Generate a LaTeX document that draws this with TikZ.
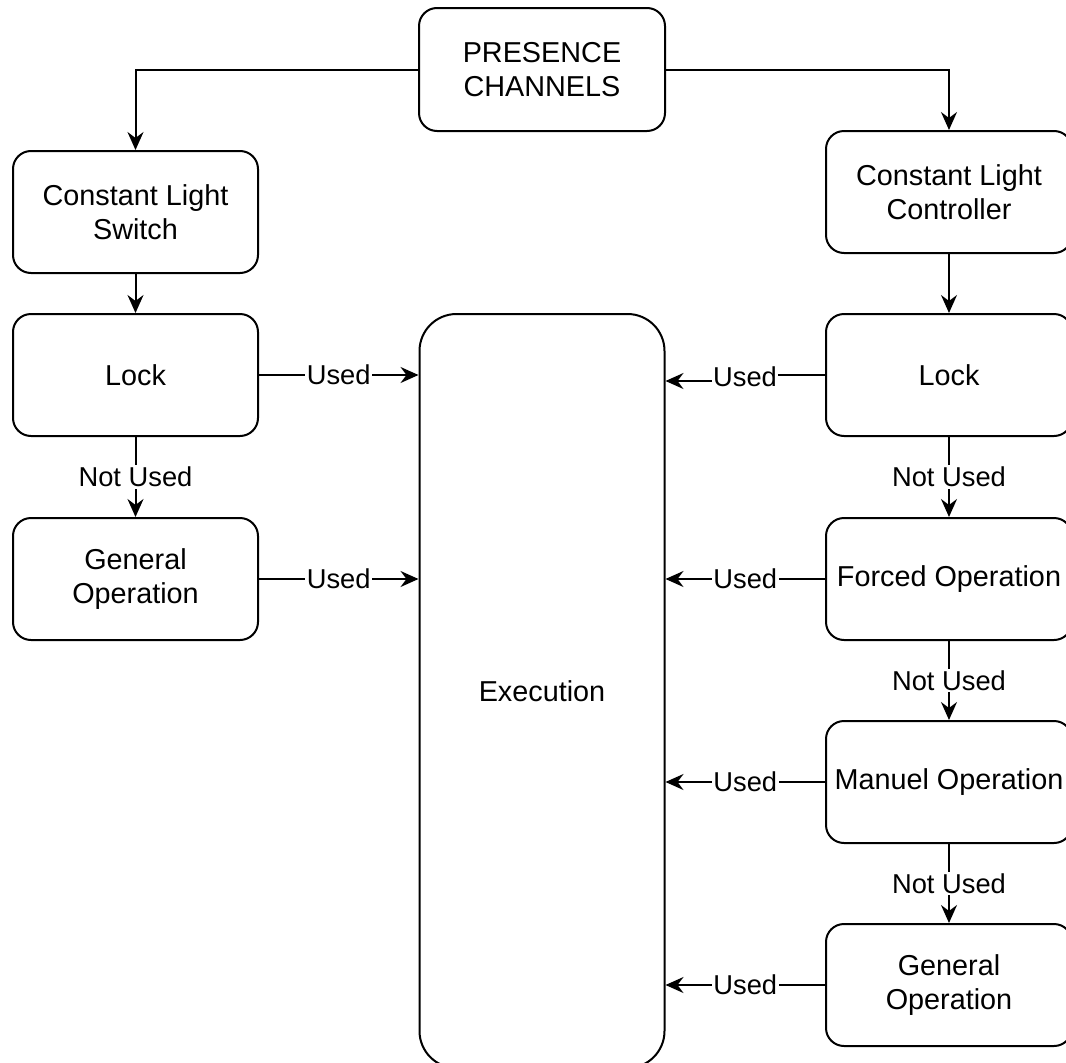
\documentclass[tikz,border=0pt]{standalone}
\usepackage{fontspec}
\setmainfont{Liberation Sans}
\usetikzlibrary{arrows.meta,calc}
\tikzset{
  box/.style={draw, line width=2pt, rounded corners=18pt, minimum width=245pt, minimum height=122pt, align=center, inner sep=0pt,
    font=\fontsize{28.8}{34.5}\selectfont},
  arr/.style={line width=2pt, -{Stealth[length=18pt,width=16pt,inset=6pt]}},
  lbl/.style={fill=white, inner sep=1.5pt, font=\fontsize{27.3}{32}\selectfont}
}
\begin{document}
\begin{tikzpicture}[x=1pt,y=-1pt]
\clip (0,0) rectangle (1066,1063);
\fill[white] (0,0) rectangle (1066,1063);
\node[box, minimum width=246pt, minimum height=123pt] (pc) at (542,69.5) {PRESENCE\\CHANNELS};
\node[box] (cls) at (135.5,212) {Constant Light\\Switch};
\node[box, minimum width=246pt] (clc) at (949,192) {Constant Light\\Controller};
\node[box] (lockL) at (135.5,375) {Lock};
\node[box, minimum width=246pt] (lockR) at (949,375) {Lock};
\node[box] (genL) at (135.5,579) {General\\Operation};
\node[box, minimum width=246pt] (forced) at (949,579) {Forced Operation};
\node[box, minimum width=246pt] (manuel) at (949,782) {Manuel Operation};
\node[box, minimum width=246pt] (genR) at (949,985) {General\\Operation};
\node[box, rounded corners=37pt, minimum height=754pt] (exe) at (542,691) {Execution};

\draw[arr] (pc.west) -| (cls.north);
\draw[arr] (pc.east) -| (clc.north);
\draw[arr] (cls.south) -- (lockL.north);
\draw[arr] (clc.south) -- (lockR.north);

\draw[arr] (lockL.east) -- node[lbl] {Used} (lockL.east -| exe.west);
\draw[arr] (genL.east) -- node[lbl] {Used} (genL.east -| exe.west);
\draw[arr] (lockL.south) -- node[lbl] {Not Used} (genL.north);

\coordinate (jog) at (745,381);
\draw[arr] (lockR.west) -- (lockR.west -| jog) -- (jog) -- (jog -| exe.east);
\node[lbl] (ulr) at (745,377) {Used};
\draw[arr] (forced.west) -- node[lbl] {Used} (forced.west -| exe.east);
\draw[arr] (manuel.west) -- node[lbl] {Used} (manuel.west -| exe.east);
\draw[arr] (genR.west) -- node[lbl] {Used} (genR.west -| exe.east);

\draw[arr] (lockR.south) -- node[lbl] {Not Used} (forced.north);
\draw[arr] (forced.south) -- node[lbl] {Not Used} (manuel.north);
\draw[arr] (manuel.south) -- node[lbl] {Not Used} (genR.north);
\end{tikzpicture}
\end{document}
